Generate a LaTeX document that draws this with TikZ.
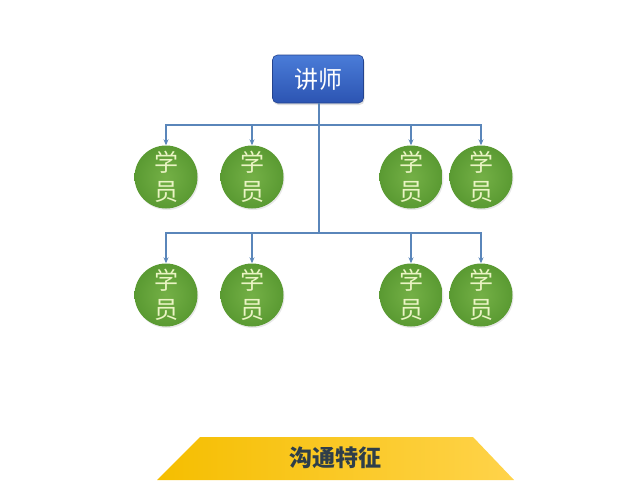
\documentclass[tikz,border=0pt]{standalone}
\usepackage{fontspec}
\newfontfamily\cjk{Noto Sans CJK SC}
\usetikzlibrary{arrows.meta,shadows}
\definecolor{linec}{HTML}{5A86BA}
\definecolor{boxtop}{HTML}{4A7CD8}
\definecolor{boxbot}{HTML}{2C54B2}
\definecolor{greenin}{HTML}{74B046}
\definecolor{greenout}{HTML}{5A9A32}
\definecolor{stutext}{HTML}{EAF4C4}
\definecolor{yelA}{HTML}{F5BE00}
\definecolor{yelB}{HTML}{FFD34A}
\definecolor{titletext}{HTML}{2E3E4A}
\tikzset{
  teacher/.style={rectangle, rounded corners=5pt, minimum width=91pt, minimum height=48pt,
    top color=boxtop, bottom color=boxbot, draw=boxbot!80!black, line width=0.6pt,
    text=white, font=\cjk\fontsize{24}{28}\selectfont, drop shadow={opacity=0.25, shadow xshift=1pt, shadow yshift=-2pt}},
  student/.style={circle, minimum size=63pt, inner sep=0pt, inner color=greenin, outer color=greenout,
    text=stutext, align=center, font=\cjk\fontsize{24}{29}\selectfont,
    drop shadow={opacity=0.18, shadow xshift=1pt, shadow yshift=-1.5pt}},
  conn/.style={draw=linec, line width=1.6pt},
  arr/.style={conn, -{Stealth[length=6pt,width=5pt]}},
}
\begin{document}
\begin{tikzpicture}[x=1pt,y=-1pt]
\useasboundingbox (0,0) rectangle (640,480);
\fill[white] (0,0) rectangle (640,480);
% bottom banner
\shade[left color=yelA, right color=yelB] (200,437) -- (473,437) -- (514,480) -- (157,480) -- cycle;
\node[font=\cjk\bfseries\fontsize{23}{26}\selectfont, text=titletext] (title) at (335,458) {沟通特征};
% teacher
\node[teacher] (t) at (318,79) {讲师};
% students
\foreach \n/\x in {a/166,b/252,c/411,d/481}{
  \node[student] (u\n) at (\x,177) {学\\员};
  \node[student] (l\n) at (\x,295) {学\\员};
}
\coordinate (j1) at (319,125);
\coordinate (j2) at (319,233);
\draw[conn] (t.south -| j1) -- (j2);
\foreach \n in {a,b,c,d}{
  \draw[arr] (j1) -| (u\n.north);
  \draw[arr] (j2) -| (l\n.north);
}
\end{tikzpicture}
\end{document}
